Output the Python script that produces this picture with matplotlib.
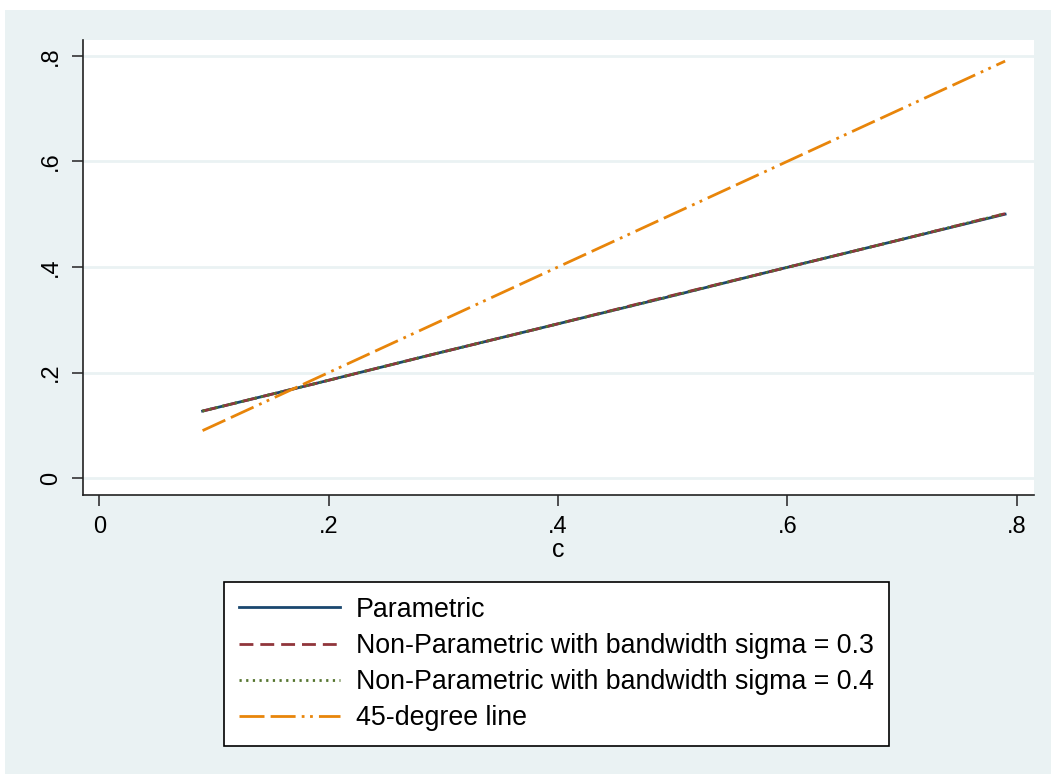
import matplotlib
matplotlib.use("Agg")
import matplotlib.pyplot as plt
from matplotlib.patches import Rectangle

plt.rcParams['font.family'] = ['Liberation Sans', 'DejaVu Sans']

c = [0.09, 0.19, 0.29, 0.39, 0.49, 0.59, 0.69, 0.79]
parametric = [0.127, 0.180, 0.234, 0.287, 0.340, 0.394, 0.447, 0.500]
np_sigma03 = [0.127, 0.180, 0.234, 0.287, 0.341, 0.394, 0.447, 0.501]
np_sigma04 = [0.127, 0.180, 0.234, 0.287, 0.340, 0.394, 0.447, 0.501]
line45 = [0.09, 0.19, 0.29, 0.39, 0.49, 0.59, 0.69, 0.79]

xticks = [0, 0.2, 0.4, 0.6, 0.8]
xticklabels = ["0", ".2", ".4", ".6", ".8"]
yticks = [0, 0.2, 0.4, 0.6, 0.8]
yticklabels = ["0", ".2", ".4", ".6", ".8"]
labels = ["Parametric",
          "Non-Parametric with bandwidth sigma = 0.3",
          "Non-Parametric with bandwidth sigma = 0.4",
          "45-degree line"]

W, H = 1051, 774
BG = "#EAF2F3"
NAVY = "#1A476F"
MAROON = "#90353B"
GREEN = "#55752F"
ORANGE = "#E8850A"

fig = plt.figure(figsize=(W / 100, H / 100), dpi=100, facecolor="white")
fig.patches.append(Rectangle((5 / W, 0), 1 - 5 / W, 1 - 10 / H, transform=fig.transFigure,
                             facecolor=BG, edgecolor="none", zorder=-10))

x0, x1 = 83, 1034
y0, y1 = 40, 495
ax = fig.add_axes([x0 / W, 1 - y1 / H, (x1 - x0) / W, (y1 - y0) / H])
ax.set_facecolor("white")

lw = 2.0
ax.plot(c, parametric, color=NAVY, lw=lw, label=labels[0], zorder=3)
ax.plot(c, np_sigma03, color=MAROON, lw=lw, ls=(0, (5, 2.5)), label=labels[1], zorder=4)
ax.plot(c, np_sigma04, color=GREEN, lw=lw, ls=(0, (0.8, 1.6)), label=labels[2], zorder=5)
ax.plot(c, line45, color=ORANGE, lw=lw,
        ls=(0, (9, 2.2, 9, 2.2, 1, 2, 1, 2.2)), label=labels[3], zorder=6)

ax.set_xlim(-0.0143, 0.8152)
ax.set_ylim(-0.032, 0.830)

ax.set_yticks(yticks)
ax.set_yticklabels(yticklabels, rotation=90, va="center")
ax.set_xticks(xticks)
ax.set_xticklabels(xticklabels)
ax.tick_params(axis="both", length=8, width=1.2, color="#333333", labelsize=17, pad=7)
ax.grid(axis="y", color=BG, lw=2)
ax.set_axisbelow(True)

for s in ["top", "right"]:
    ax.spines[s].set_visible(False)
for s in ["left", "bottom"]:
    ax.spines[s].set_color("#222222")
    ax.spines[s].set_linewidth(1.2)

ax.set_xlabel("c", fontsize=18, labelpad=0)

leg = fig.legend(loc="upper left", bbox_to_anchor=(224 / W, 1 - 582 / H),
                 bbox_transform=fig.transFigure, borderaxespad=0,
                 frameon=True, fancybox=False, edgecolor="black", framealpha=1,
                 fontsize=19.3, handlelength=3.77, handletextpad=0.6,
                 labelspacing=0.38, borderpad=0.55)
leg.get_frame().set_linewidth(1.2)
leg.get_frame().set_facecolor("white")

fig.savefig("out.png", dpi=100, facecolor=fig.get_facecolor())
